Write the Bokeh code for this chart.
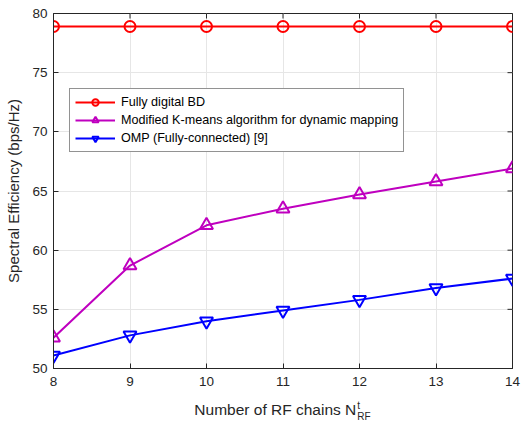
import math
from bokeh.plotting import figure
from bokeh.models import Range1d, FixedTicker, Legend, LegendItem, Div
from bokeh.layouts import column
from bokeh.embed import file_html
from bokeh.resources import INLINE

n_rf = [8, 9, 10, 11, 12, 13, 14]
fully_digital = [78.9, 78.9, 78.9, 78.9, 78.9, 78.9, 78.9]
kmeans_dynamic = [52.6, 58.7, 62.1, 63.5, 64.7, 65.8, 66.9]
omp_fully = [51.1, 52.8, 54.0, 54.9, 55.8, 56.8, 57.6]
series_names = ["Fully digital BD",
                "Modified K-means algorithm for dynamic mapping",
                "OMP (Fully-connected) [9]"]
x_ticks = [8, 9, 10, 11, 12, 13, 14]
y_ticks = [50, 55, 60, 65, 70, 75, 80]
y_label = "Spectral Efficiency (bps/Hz)"
x_label_main = "Number of RF chains N"
x_label_sup = "t"
x_label_sub = "RF"

FONT = "Liberation Sans"
AX = "#262626"
X0, X1 = x_ticks[0], x_ticks[-1]
Y0, Y1 = y_ticks[0], y_ticks[-1]

p = figure(width=523, height=396, output_backend="svg", toolbar_location=None,
           x_range=Range1d(X0, X1), y_range=Range1d(Y0, Y1),
           min_border_left=53, min_border_right=11, min_border_top=13, min_border_bottom=28)
p.outline_line_color = AX
p.outline_line_width = 1
p.background_fill_color = "white"

for ax in (p.xaxis[0], p.yaxis[0]):
    ax.axis_line_color = AX
    ax.major_tick_line_color = AX
    ax.major_tick_in = 5
    ax.major_tick_out = 0
    ax.minor_tick_line_color = None
    ax.major_label_text_font = FONT
    ax.major_label_text_font_size = "13.5px"
    ax.major_label_text_color = AX
    ax.axis_label_text_font = FONT
    ax.axis_label_text_font_style = "normal"
    ax.axis_label_text_font_size = "15px"
    ax.axis_label_text_color = AX

p.xaxis[0].ticker = FixedTicker(ticks=x_ticks)
p.yaxis[0].ticker = FixedTicker(ticks=y_ticks)
p.xaxis[0].major_label_standoff = 8
p.yaxis[0].major_label_standoff = 6
p.yaxis[0].axis_label = y_label
p.yaxis[0].axis_label_standoff = 7

p.xgrid.ticker = FixedTicker(ticks=x_ticks)
p.ygrid.ticker = FixedTicker(ticks=y_ticks)
p.grid.grid_line_color = "#e6e6e6"
p.grid.grid_line_width = 1

# inward ticks on the top and right edges (half of each dash is clipped by the frame)
p.scatter(x_ticks, [Y1] * len(x_ticks), marker="dash", size=10, angle=math.pi / 2,
          line_color=AX, line_width=1)
p.scatter([X1] * len(y_ticks), y_ticks, marker="dash", size=10,
          line_color=AX, line_width=1)

r1l = p.line(n_rf, fully_digital, line_color="#ff0000", line_width=2)
r1m = p.scatter(n_rf, fully_digital, marker="circle", size=11, fill_color=None,
                line_color="#ff0000", line_width=2)
r2l = p.line(n_rf, kmeans_dynamic, line_color="#bf00bf", line_width=2)
r2m = p.scatter(n_rf, kmeans_dynamic, marker="triangle", size=13, fill_color=None,
                line_color="#bf00bf", line_width=2)
r3l = p.line(n_rf, omp_fully, line_color="#0000ff", line_width=2)
r3m = p.scatter(n_rf, omp_fully, marker="inverted_triangle", size=13, fill_color=None,
                line_color="#0000ff", line_width=2)

legend = Legend(items=[LegendItem(label=series_names[0], renderers=[r1l, r1m]),
                       LegendItem(label=series_names[1], renderers=[r2l, r2m]),
                       LegendItem(label=series_names[2], renderers=[r3l, r3m])],
                location=(16, 216))
legend.label_text_font = FONT
legend.label_text_font_size = "12.6px"
legend.label_text_color = "black"
legend.border_line_color = AX
legend.border_line_width = 1
legend.glyph_width = 40
legend.glyph_height = 16
legend.label_height = 16
legend.spacing = 2
legend.padding = 5
legend.margin = 0
legend.label_standoff = 6
legend.background_fill_alpha = 1
p.add_layout(legend, "center")

label_html = (
    '<div style="box-sizing:border-box;width:523px;text-align:center;padding-left:42px;'
    'padding-top:4px;font-family:\'Liberation Sans\';font-size:15.5px;color:%s;'
    'line-height:18px;white-space:nowrap;">'
    '%s<span style="display:inline-block;vertical-align:-5px;font-size:10px;'
    'line-height:11px;text-align:left;margin-left:1px;">'
    '<span style="display:block;">%s</span><span style="display:block;">%s</span>'
    '</span></div>' % (AX, x_label_main, x_label_sup, x_label_sub)
)
xlabel_div = Div(text=label_html, width=523, height=28, margin=(0, 0, 0, 0))

layout = column(p, xlabel_div, spacing=0)
open("out.html", "w").write(file_html(layout, INLINE))
